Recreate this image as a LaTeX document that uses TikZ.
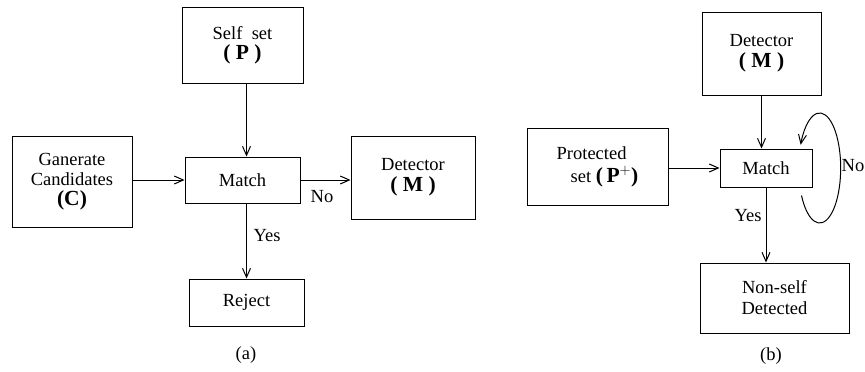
\documentclass[tikz,border=0pt]{standalone}
\usepackage{fontspec}
\setmainfont{Liberation Serif}
\usetikzlibrary{arrows.meta,calc}
\newcommand{\bigbf}{\fontsize{21.5}{23}\bfseries\selectfont}
\begin{document}
\begin{tikzpicture}[x=1pt,y=-1pt,
  txt/.style={font=\fontsize{18.5}{21}\selectfont},
  box/.style={draw,line width=1pt,inner sep=0pt,align=center,txt},
  conn/.style={line width=1pt,-{Straight Barb[length=9pt,width=8pt,line width=1pt]}},
  lbl/.style={txt,inner sep=0pt}
]
\clip (0,0) rectangle (865,372);
\fill[white] (0,0) rectangle (865,372);
% ---- (a)
\node[box,minimum width=121pt,minimum height=76pt] (self) at (242.5,45) {Self\ \ set\\[-1pt]{\bigbf( P )}};
\node[box,minimum width=120pt,minimum height=91pt] (gen) at (72,181.5) {Ganerate\\[-1pt]Candidates\\[-1pt]{\bigbf(C)}};
\node[box,minimum width=115pt,minimum height=46pt] (match) at (242.5,180) {Match};
\node[box,minimum width=124pt,minimum height=83pt] (det) at (413,177.5) {Detector\\{\bigbf( M )}};
\node[box,minimum width=115pt,minimum height=47pt] (rej) at (246.5,302.5) {Reject};
\node[lbl] (la) at (246,355) {(a)};
\draw[conn] (self.south -| rej.north) -- (match.north -| rej.north);
\draw[conn] (gen.east |- match.west) -- (match.west);
\draw[conn] (match.east) -- (match.east -| det.west);
\draw[conn] (match.south -| rej.north) -- (rej.north);
\node[lbl] (no1) at (322,197) {No};
\node[lbl] (yes1) at (267,236) {Yes};
% ---- (b)
\node[box,minimum width=119pt,minimum height=83pt] (bdet) at (761.5,53.5) {Detector\\{\bigbf( M )}};
\node[box,minimum width=141pt,minimum height=77pt] (prot) at (597.5,166.5) {\begin{tabular}{@{}l@{}}Protected\\[1pt]\hspace*{14pt}set {\bigbf(\,P$^{\mathbf{+}}$)}\end{tabular}};
\node[box,minimum width=92pt,minimum height=38pt] (bmatch) at (766,168) {Match};
\node[box,minimum width=149pt,minimum height=70pt] (ns) at (774.5,298) {Non-self\\Detected};
\node[lbl] (lb) at (771,356) {(b)};
\draw[conn] (bdet.south) -- (bdet.south |- bmatch.north);
\draw[conn] (prot.east |- bmatch.west) -- (bmatch.west);
\draw[conn] (bmatch.south) -- (bmatch.south |- ns.north);
\coordinate (ls) at ($(bmatch.south east)+(-11,8)$);
\draw[conn] (ls) arc[start angle=210,end angle=515,x radius=21pt,y radius=55pt];
\node[lbl,anchor=east] (no2) at (864.5,166) {No};
\node[lbl] (yes2) at (748,216) {Yes};
\end{tikzpicture}
\end{document}
